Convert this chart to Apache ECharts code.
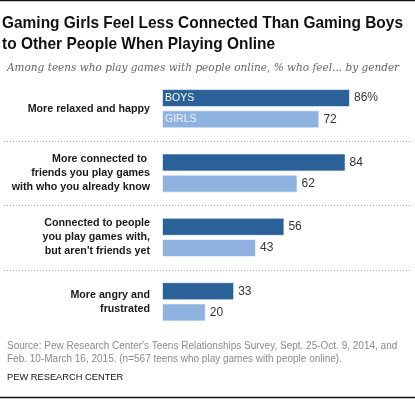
<!DOCTYPE html>
<html>
<head>
<meta charset="UTF-8">
<title>Gaming Girls Feel Less Connected</title>
<script src="https://cdn.jsdelivr.net/npm/echarts@6/dist/echarts.min.js"></script>
<style>
  html, body { margin: 0; padding: 0; background: #fff; }
  #main { width: 415px; height: 399px; }
</style>
</head>
<body>
<div id="main"></div>
<script type="text/javascript">
// data
var categories = [
    'More relaxed and happy',
    'More connected to \nfriends you play games\nwith who you already know',
    'Connected to people\nyou play games with,\nbut aren\'t friends yet',
    'More angry and\nfrustrated'
];
var boys = [86, 84, 56, 33];
var girls = [72, 62, 43, 20];
var seriesNames = ['BOYS', 'GIRLS'];

var titleLines = ['Gaming Girls Feel Less Connected Than Gaming Boys', 'to Other People When Playing Online'];
var subText = 'Among teens who play games with people online, % who feel... by gender';
var sourceText = 'Source: Pew Research Center\'s Teens Relationships Survey, Sept. 25-Oct. 9, 2014, and\nFeb. 10-March 16, 2015. (n=567 teens who play games with people online).';

var darkBlue = '#2b6199';
var lightBlue = '#8eb3e1';

// measure texts so they take the same width as in the picture
var ctx = document.createElement('canvas').getContext('2d');
function textWidth(font, s) { ctx.font = font; return ctx.measureText(s).width; }
function hasFont(name) {
    var s = 'abcdefghijklmnopqrstuvwxyz0123456789';
    return textWidth('20px "' + name + '", monospace', s) !== textWidth('20px monospace', s);
}
function fitSize(style, family, s, target) {
    var w = textWidth(style + ' 20px ' + family, s);
    return Math.round(20 * target / w * 10) / 10;
}
var sans = '"Liberation Sans"';
var serif = hasFont('DejaVu Serif') ? '"DejaVu Serif"' : 'serif';

var titleSize = 16.5;
var titleScale = 401 / textWidth('bold ' + titleSize + 'px ' + sans, titleLines[0]);
var subSize = fitSize('italic', serif, subText, 392);
var catSize = fitSize('bold', sans, 'with who you already know', 138);
var srcSize = fitSize('normal', sans, 'Source: Pew Research Center\'s Teens Relationships Survey, Sept. 25-Oct. 9, 2014, and', 392);
var pewSize = fitSize('normal', sans, 'PEW RESEARCH CENTER', 116);

var myChart = echarts.init(document.getElementById('main'));

var barBase = {
    type: 'bar',
    barWidth: 18,
    barGap: '18%'
};

var option = {
    animation: false,
    textStyle: { fontFamily: 'Liberation Sans' },
    title: [{
        text: subText,
        left: 2, top: 58,
        textStyle: { fontSize: subSize, fontStyle: 'italic', fontWeight: 'normal', color: '#666', fontFamily: serif }
    }, {
        text: sourceText,
        left: 2, top: 335,
        textStyle: { fontSize: srcSize, fontWeight: 'normal', color: '#8a8a8a', lineHeight: 13 }
    }, {
        text: 'PEW RESEARCH CENTER',
        left: 2, top: 368,
        textStyle: { fontSize: pewSize, fontWeight: 'normal', color: '#111' }
    }],
    grid: { left: 162, right: 34.4, top: 76.5, bottom: 399 - 334, outerBoundsMode: 'none', containLabel: false },
    xAxis: {
        type: 'value', min: 0, max: 100, show: false
    },
    yAxis: [{
        type: 'category',
        data: categories,
        inverse: true,
        axisLine: { show: false },
        axisTick: { show: false },
        splitLine: { show: false },
        axisLabel: {
            margin: 12, fontSize: catSize, fontWeight: 'bold', color: '#1a1a1a',
            fontFamily: sans, lineHeight: 14, align: 'right'
        }
    }, {
        type: 'category',
        data: categories,
        inverse: true,
        show: false
    }],
    series: [
        Object.assign({}, barBase, {
            name: seriesNames[0],
            data: boys,
            itemStyle: { color: darkBlue, borderColor: 'rgba(255,255,255,0.6)', borderWidth: 1 },
            label: {
                show: true, position: 'right', distance: 4, fontSize: 12, color: '#333',
                formatter: function (p) { return p.dataIndex === 0 ? p.value + '%' : p.value; }
            }
        }),
        Object.assign({}, barBase, {
            name: seriesNames[1],
            data: girls,
            itemStyle: { color: lightBlue, borderColor: 'rgba(255,255,255,0.6)', borderWidth: 1 },
            label: { show: true, position: 'right', distance: 4, fontSize: 12, color: '#333' }
        }),
        // series-name labels inside the first pair of bars
        Object.assign({}, barBase, {
            yAxisIndex: 1,
            data: [boys[0], '-', '-', '-'],
            itemStyle: { color: 'rgba(0,0,0,0)' },
            silent: true,
            label: { show: true, position: 'insideLeft', distance: 3, fontSize: 10.5, color: '#fff', formatter: seriesNames[0] }
        }),
        Object.assign({}, barBase, {
            yAxisIndex: 1,
            data: [girls[0], '-', '-', '-'],
            itemStyle: { color: 'rgba(0,0,0,0)' },
            silent: true,
            label: { show: true, position: 'insideLeft', distance: 3, fontSize: 10.5, color: '#eef3fa', formatter: seriesNames[1] }
        })
    ],
    graphic: [
        { type: 'line', shape: { x1: 0, y1: 0.5, x2: 415, y2: 0.5 }, style: { stroke: '#111', lineWidth: 1.5 } },
        { type: 'line', shape: { x1: 0, y1: 397.5, x2: 415, y2: 397.5 }, style: { stroke: '#111', lineWidth: 1.5 } },
        {
            type: 'text', x: 2, y: 13, scaleX: titleScale,
            style: {
                text: titleLines.join('\n'), fontSize: titleSize, fontWeight: 'bold', fontFamily: sans,
                fill: '#111', lineHeight: 21, verticalAlign: 'top'
            }
        }
    ]
};
myChart.setOption(option);

// dotted separators between the groups, placed with the category axis
var seps = [];
for (var i = 1; i < categories.length; i++) {
    var a = myChart.convertToPixel({ yAxisIndex: 0 }, i - 1);
    var b = myChart.convertToPixel({ yAxisIndex: 0 }, i);
    var y = Math.round((a + b) / 2) + 0.5;
    seps.push({ type: 'line', shape: { x1: 4, y1: y, x2: 411, y2: y }, style: { stroke: '#aaa', lineWidth: 1, lineDash: [1, 2] } });
}
myChart.setOption({ graphic: option.graphic.concat(seps) });
</script>
</body>
</html>
